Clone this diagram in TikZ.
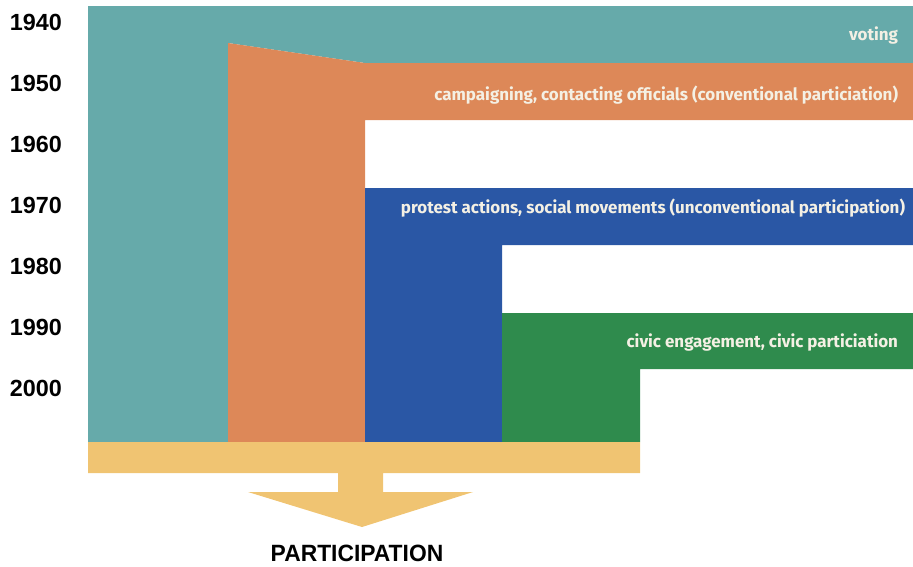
\documentclass[tikz,border=0pt]{standalone}
\usepackage{fontspec}
\setmainfont{Fira Sans}
\newfontfamily\yearfont{Liberation Sans}
\newfontfamily\titlefont[FakeStretch=0.97]{Liberation Sans}
\definecolor{votingteal}{HTML}{66AAAA}
\definecolor{convorange}{HTML}{DD8858}
\definecolor{protestblue}{HTML}{2A57A5}
\definecolor{civicgreen}{HTML}{2F8B4D}
\definecolor{baryellow}{HTML}{F0C472}
\definecolor{labeltext}{HTML}{F4F0E4}
\begin{document}
\begin{tikzpicture}[x=0.02cm, y=-0.02cm, every node/.style={inner sep=0pt, outer sep=0pt},
    year/.style={font=\yearfont\bfseries\fontsize{13.3}{14}\selectfont, anchor=west},
    band/.style={font=\bfseries\fontsize{9.65}{11}\selectfont, text=labeltext, anchor=east}]
    \useasboundingbox (0, 0) rectangle (913, 566);
    % layers of participation
    \fill[votingteal] (88, 6) -- (913, 6) -- (913, 63) -- (365, 63) -- (228, 43) -- (228, 442) -- (88, 442) -- cycle;
    \fill[convorange] (228, 43) -- (365, 63) -- (913, 63) -- (913, 120) -- (365, 120) -- (365, 442) -- (228, 442) -- cycle;
    \fill[protestblue] (365, 188) -- (913, 188) -- (913, 245) -- (502, 245) -- (502, 442) -- (365, 442) -- cycle;
    \fill[civicgreen] (502, 313) -- (913, 313) -- (913, 369) -- (640, 369) -- (640, 442) -- (502, 442) -- cycle;
    % bar and arrow
    \fill[baryellow] (88, 442) -- (640, 442) -- (640, 473) -- (383, 473) -- (383, 492) -- (473, 492) -- (362, 527)
        -- (248, 492) -- (338, 492) -- (338, 473) -- (88, 473) -- cycle;
    \foreach \yr [count=\i from 0] in {1940, 1950, 1960, 1970, 1980, 1990, 2000}
        \node[year] (y\yr) at (10, 22.5+61*\i) {\yr};
    \node[band] (voting) at (898, 35) {voting};
    \node[band] (campaign) at (898, 95) {campaigning, contacting officials (conventional particiation)};
    \node[band] (protest) at (905, 208) {protest actions, social movements (unconventional participation)};
    \node[band] (civic) at (898, 342) {civic engagement, civic particiation};
    \node[font=\titlefont\bfseries\fontsize{13.4}{15}\selectfont] (participation) at (357, 553) {PARTICIPATION};
\end{tikzpicture}
\end{document}
